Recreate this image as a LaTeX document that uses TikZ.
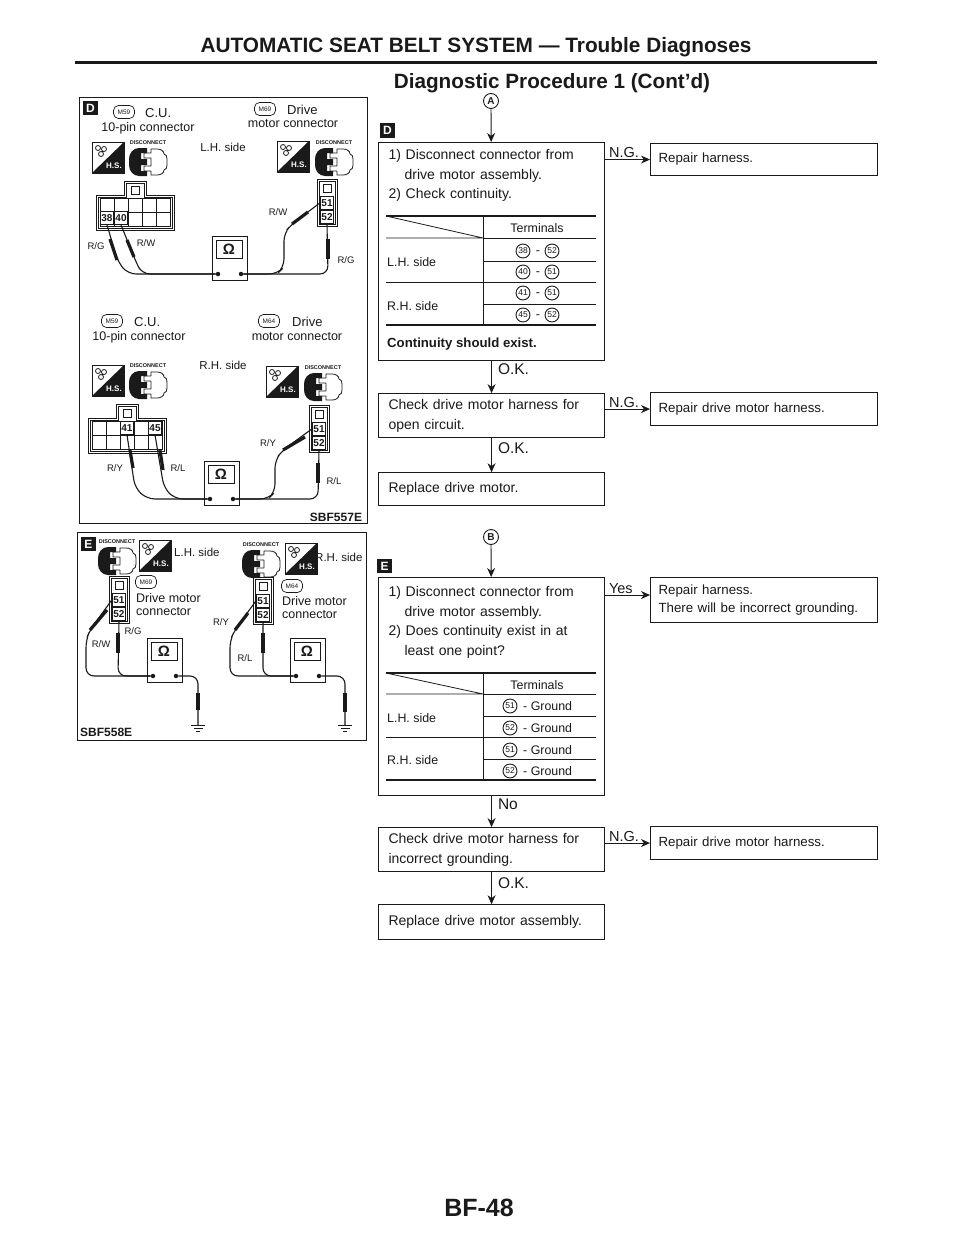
\documentclass[tikz,border=0pt]{standalone}
\usepackage{fontspec}
\setmainfont{Liberation Sans}
\usepackage{xcolor}
\usetikzlibrary{arrows.meta,positioning}
\definecolor{Ink}{HTML}{1A1A1A}
\newcommand{\fsz}[1]{\fontsize{#1}{#1}\selectfont}
\begin{document}
\begin{tikzpicture}[x=1pt,y=-1pt,color=Ink,
    lbl/.style={font=\fsz{12.5},inner sep=0pt},
    sidelbl/.style={font=\fsz{11.5},inner sep=0pt},
    wirelbl/.style={font=\fsz{9.5},inner sep=0pt},
    tbl/.style={font=\fsz{12.4},inner sep=0pt},
    tag/.style={draw,rounded corners=5pt,minimum width=21pt,minimum height=13pt,
                inner sep=0pt,font=\fsz{6.5},line width=.7pt},
    lettertag/.style={fill=Ink,text=white,font=\bfseries\fsz{12},minimum size=14.5pt,inner sep=0pt},
    pinnum/.style={draw,fill=white,line width=.9pt,font=\bfseries\fsz{10},inner sep=0pt,
                   minimum width=13.5pt,minimum height=13pt},
    cnum/.style={circle,draw,line width=.9pt,inner sep=0pt,minimum size=14pt,font=\fsz{8.5}},
    letterring/.style={circle,draw,line width=.9pt,inner sep=0pt,minimum size=15pt,font=\bfseries\fsz{10}},
    procbox/.style={draw,line width=1.1pt,minimum width=226pt,inner xsep=10pt,inner ysep=0pt,
                    text width=206pt,align=left,font=\fontsize{14}{19.5}\selectfont},
    repbox/.style={draw,line width=1.1pt,minimum width=227pt,inner xsep=8pt,inner ysep=0pt,
                   text width=211pt,align=left,anchor=north west,font=\fontsize{13.3}{18}\selectfont},
    panel/.style={draw,line width=1.1pt,inner sep=0pt,anchor=north west},
    arr/.style={-{Stealth[length=9pt,width=8pt]},line width=.9pt},
    flowlbl/.style={inner sep=0pt,font=\fsz{15.5}},
    wire/.style={line width=1.1pt,rounded corners=8pt},
    probe/.style={line width=3.2pt},
    hrule/.style={line width=.8pt},
    hrulebig/.style={line width=2.2pt},
    pics/hsbox/.style={code={
      \draw[line width=.8pt] (0,0) rectangle (32,31);
      \fill (32,0) -- (32,31) -- (0,31) -- cycle;
      \node[text=white,font=\bfseries\fsz{8},inner sep=0pt] (-hs) at (22,24) {H.S.};
      \draw[line width=.8pt] (6,6) circle (2.5) (12,7) circle (2.5) (9,12) circle (2.5);
    }},
    pics/plug/.style={code={
      \node[font=\bfseries\fsz{5.5},inner sep=0pt] (-lbl) at (0,-19) {DISCONNECT};
      \fill (-1,-14) -- (-9,-14) to[out=180,in=90] (-19,-3) -- (-19,3) to[out=-90,in=180] (-9,14)
        -- (-1,14) -- (-1,9) -- (-7,9) -- (-7,3) -- (-1,3) -- (-1,-3) -- (-7,-3) -- (-7,-9) -- (-1,-9) -- cycle;
      \draw[line width=.8pt] (3,-9) -- (-4,-9) -- (-4,-4) -- (3,-4) (3,4) -- (-4,4) -- (-4,9) -- (3,9)
        (3,-9) -- (3,-13) -- (9,-13) to[out=0,in=90] (16,-8) to[out=0,in=90] (19,-3) -- (19,3)
        to[out=-90,in=0] (16,8) to[out=-90,in=0] (9,13) -- (3,13) -- (3,9) (3,-4) -- (3,4);
    }},
    pics/meter/.style={code={
      \draw[line width=.9pt] (0,0) rectangle (35,44);
      \draw[line width=.9pt] (4,4) rectangle (30,22);
      \node[font=\bfseries\fsz{15},inner sep=0pt] (-ohm) at (17,13) {Ω};
      \node[circle,fill,inner sep=0pt,minimum size=4.5pt] (-a) at (6,38) {};
      \node[circle,fill,inner sep=0pt,minimum size=4.5pt] (-b) at (29,38) {};
    }},
    pics/twopin/.style={code={
      \draw[line width=.9pt] (0,0) rectangle (20,47);
      \draw[line width=.9pt] (2,2) rectangle (18,45);
      \draw[line width=.9pt] (6,5) rectangle (14,13);
      \node[pinnum] (-a) at (10,24) {51};
      \node[pinnum] (-b) at (10,38) {52};
    }},
    pics/tenpin/.style={code={
      \draw[line width=.9pt] (0,0) -- (28,0) -- (28,-14) -- (50,-14) -- (50,0) -- (78,0) -- (78,35) -- (0,35) -- cycle;
      \draw[line width=.9pt] (2,2) -- (30,2) -- (30,-12) -- (48,-12) -- (48,2) -- (76,2) -- (76,33) -- (2,33) -- cycle;
      \draw[line width=.9pt] (35,-9) rectangle (43,-1);
      \draw[line width=.9pt] (4,3) rectangle (74,31) (4,17) -- (74,17);
      \foreach \x in {18,32,46,60} \draw[line width=.9pt] (\x,3) -- (\x,31);
    }},
    pics/earth/.style={code={
      \coordinate (-top) at (0,0);
      \draw[line width=.9pt] (-7,0) -- (7,0) (-4.5,3) -- (4.5,3) (-2,6) -- (2,6);
    }}]
  \useasboundingbox (0,0) rectangle (960,1242);
  \fill[white] (0,0) rectangle (960,1242);
  % page head
  \node[font=\bfseries\fsz{20.8},inner sep=0pt] (head) at (476,47) {AUTOMATIC SEAT BELT SYSTEM --- Trouble Diagnoses};
  \draw[line width=3pt] (75,62) -- (877,62);
  \node[font=\bfseries\fsz{20.7},inner sep=0pt] (subhead) at (552,83) {Diagnostic Procedure 1 (Cont'd)};
  % panel D
  \node[panel,minimum width=288pt,minimum height=426pt] (paneld) at (79,97) {};
  \node[lettertag] (tagd) at (90.5,108) {D};
  \node[tag] (m59a) at (124,112) {M59};
  \node[lbl,anchor=west,font=\fsz{13}] (cua) at (145,113) {C.U.};
  \node[lbl] (pina) at (148,128) {10-pin connector};
  \node[tag] (m69a) at (265,109) {M69};
  \node[lbl,anchor=west,font=\fsz{13}] (drva) at (287,110) {Drive};
  \node[lbl] (mota) at (293,124) {motor connector};
  \pic (hsa) at (92,142) {hsbox};
  \pic (pla) at (148,162) {plug};
  \node[sidelbl] (lha) at (223,147) {L.H. side};
  \pic (hsb) at (277,141) {hsbox};
  \pic (plb) at (334,162) {plug};
  \pic (ca) at (96,195) {tenpin};
  \node[pinnum] (p38) at (107,218) {38};
  \node[pinnum] (p40) at (121,218) {40};
  \pic (cb) at (317,179) {twopin};
  \pic (ma) at (212,236) {meter};
  \draw[wire] (p38.south) -- (118,262) -- (128,274) -- (ma-a);
  \draw[probe] (110,239) -- (117,260);
  \draw[wire] (p40.south) -- (136,262) -- (142,274) -- (ma-a);
  \draw[probe] (127,240) -- (134,257);
  \draw[wire] (cb-a.west) -- (292,224) -- (284,233) -- (284,267) -- (277,274) -- (ma-b);
  \draw[probe] (308,212) -- (292,224);
  \draw[wire] (ma-b) -- (328,274) -- (cb-b.south);
  \draw[probe] (328,239) -- (328,259);
  \node[wirelbl] (rga) at (96,246) {R/G};
  \node[wirelbl] (rwa) at (146,243) {R/W};
  \node[wirelbl] (rwb) at (278,212) {R/W};
  \node[wirelbl] (rgb) at (346,260) {R/G};
  % R.H. side of panel D
  \node[tag] (m59b) at (112,321) {M59};
  \node[lbl,anchor=west,font=\fsz{13}] (cub) at (134,322) {C.U.};
  \node[lbl] (pinb) at (139,337) {10-pin connector};
  \node[tag] (m64a) at (269,321) {M64};
  \node[lbl,anchor=west,font=\fsz{13}] (drvb) at (292,322) {Drive};
  \node[lbl] (motb) at (297,337) {motor connector};
  \pic (hsc) at (92,365) {hsbox};
  \pic (plc) at (148,385) {plug};
  \node[sidelbl] (rha) at (223,365) {R.H. side};
  \pic (hsd) at (266,366) {hsbox};
  \pic (pld) at (323,387) {plug};
  \pic (cc) at (88,418) {tenpin};
  \node[pinnum] (p41) at (127,428) {41};
  \node[pinnum] (p45) at (155,428) {45};
  \pic (cd) at (309,405) {twopin};
  \pic (mb) at (204,461) {meter};
  \draw[wire] (p41.south) -- (135,488) -- (147,499) -- (mb-a);
  \draw[probe] (130,450) -- (133,468);
  \draw[wire] (p45.south) -- (164,488) -- (175,499) -- (mb-a);
  \draw[probe] (160,450) -- (163,470);
  \draw[wire] (cd-a.west) -- (283,450) -- (275,460) -- (275,492) -- (268,499) -- (mb-b);
  \draw[probe] (305,437) -- (283,450);
  \draw[wire] (mb-b) -- (318,499) -- (cd-b.south);
  \draw[probe] (318,463) -- (318,483);
  \node[wirelbl] (rya) at (115,468) {R/Y};
  \node[wirelbl] (rla) at (178,468) {R/L};
  \node[wirelbl] (ryb) at (268,443) {R/Y};
  \node[wirelbl] (rlb) at (334,481) {R/L};
  \node[inner sep=0pt,font=\bfseries\fsz{12}] (sbfa) at (336,517) {SBF557E};
  % panel E
  \node[panel,minimum width=289pt,minimum height=208pt] (panele) at (77,532) {};
  \node[lettertag] (tage) at (88.5,544) {E};
  \pic (ple) at (117,561) {plug};
  \pic (hse) at (139,540) {hsbox};
  \node[sidelbl,anchor=west] (lhb) at (174,552) {L.H. side};
  \pic (ce) at (109,576) {twopin};
  \node[tag] (m69b) at (146,582) {M69};
  \node[lbl,anchor=west] (dma) at (136,598) {Drive motor};
  \node[lbl,anchor=west] (cna) at (136,612) {connector};
  \pic (me) at (147,638) {meter};
  \draw[wire] (ce-a.west) -- (90,630) -- (86,640) -- (86,676) -- (me-a);
  \draw[probe] (107,610) -- (90,630);
  \draw[wire] (ce-b.south) -- (118,676) -- (me-a);
  \draw[probe] (118,633) -- (118,653);
  \pic (ga) at (198,725) {earth};
  \draw[wire] (me-b) -- (198,676) -- (ga-top);
  \draw[probe] (198,693) -- (198,710);
  \node[wirelbl] (rwc) at (101,644) {R/W};
  \node[wirelbl] (rgc) at (133,631) {R/G};
  \node[inner sep=0pt,font=\bfseries\fsz{12},anchor=west] (sbfb) at (80,732) {SBF558E};
  \pic (plf) at (261,564) {plug};
  \pic (hsf) at (285,543) {hsbox};
  \node[sidelbl,anchor=west] (rhb) at (315,557) {R.H. side};
  \pic (cf) at (253,577) {twopin};
  \node[tag] (m64b) at (292,586) {M64};
  \node[lbl,anchor=west] (dmb) at (282,601) {Drive motor};
  \node[lbl,anchor=west] (cnb) at (282,615) {connector};
  \pic (mf) at (290,638) {meter};
  \draw[wire] (cf-a.west) -- (235,630) -- (230,640) -- (230,676) -- (mf-a);
  \draw[probe] (248,613) -- (235,630);
  \draw[wire] (cf-b.south) -- (263,676) -- (mf-a);
  \draw[probe] (263,633) -- (263,653);
  \pic (gb) at (345,725) {earth};
  \draw[wire] (mf-b) -- (345,676) -- (gb-top);
  \draw[probe] (345,693) -- (345,712);
  \node[wirelbl] (ryc) at (221,622) {R/Y};
  \node[wirelbl] (rlc) at (245,658) {R/L};
  % flow D
  \node[letterring] (cona) at (491,101) {A};
  \node[lettertag] (tagdb) at (387.5,130.5) {D};
  \node[procbox,minimum height=218pt,anchor=north west] (d1) at (378,142) {};
  \node[procbox,draw=none,anchor=north west,minimum height=0pt] (d1t) at (378,149)
    {1) Disconnect connector from\\\hspace*{16pt}drive motor assembly.\\2) Check continuity.};
  \draw[hrulebig] (386,216) -- (596,216);
  \draw[hrule] (386,216) -- (483,238) -- (386,238);
  \draw[hrule] (483,216) -- (483,325);
  \foreach \y in {238,261,304} \draw[hrule] (483,\y) -- (596,\y);
  \draw[hrule] (386,282) -- (596,282);
  \draw[hrulebig] (386,325) -- (596,325);
  \node[tbl] (termd) at (537,228) {Terminals};
  \foreach \y/\a/\b in {251/38/52,272/40/51,293/41/51,315/45/52} {
    \node[cnum] (c\a) at (523,\y) {\a};
    \node[tbl,yshift=-2pt] (dash\a) at (538,\y) {-};
    \node[cnum] (e\a) at (552,\y) {\b};
  }
  \node[tbl,anchor=west] (lhd) at (387,262) {L.H. side};
  \node[tbl,anchor=west] (rhd) at (387,306) {R.H. side};
  \node[inner sep=0pt,anchor=west,font=\bfseries\fsz{13.2}] (cont) at (387,344) {Continuity should exist.};
  \node[procbox,minimum height=44pt,below=32pt of d1] (d2) {Check drive motor harness for\\open circuit.};
  \node[procbox,minimum height=33pt,below=34pt of d2] (d3) {Replace drive motor.};
  \node[repbox,minimum height=32pt] (r1) at (650,143) {Repair harness.};
  \node[repbox,minimum height=33pt] (r2) at (650,392) {Repair drive motor harness.};
  \draw[arr] (cona) -- (d1);
  \draw[arr] (d1) -- node[pos=.25,right=6pt,flowlbl] (okd) {O.K.} (d2);
  \draw[arr] (d2) -- node[pos=.3,right=6pt,flowlbl] (oke) {O.K.} (d3);
  \draw[arr] (d1.east |- r1.west) -- node[pos=.1,above right=1pt and -1pt,flowlbl,font=\fsz{14.5}] (nga) {N.G.} (r1.west);
  \draw[arr] (d2.east |- r2.west) -- node[pos=.1,above right=1pt and -1pt,flowlbl,font=\fsz{14.5}] (ngb) {N.G.} (r2.west);
  % flow E
  \node[letterring] (conb) at (491,537) {B};
  \node[lettertag] (tagev) at (384.5,566) {E};
  \node[procbox,minimum height=218pt,anchor=north west] (e1) at (378,577) {};
  \node[procbox,draw=none,anchor=north west,minimum height=0pt] (e1t) at (378,586)
    {1) Disconnect connector from\\\hspace*{16pt}drive motor assembly.\\2) Does continuity exist in at\\\hspace*{16pt}least one point?};
  \draw[hrulebig] (386,673) -- (596,673);
  \draw[hrule] (386,673) -- (483,694) -- (386,694);
  \draw[hrule] (483,673) -- (483,780);
  \foreach \y in {694,716,759} \draw[hrule] (483,\y) -- (596,\y);
  \draw[hrule] (386,737) -- (596,737);
  \draw[hrulebig] (386,780) -- (596,780);
  \node[tbl] (terme) at (537,685) {Terminals};
  \foreach \y/\a in {706/51,728/52,750/51,771/52} {
    \node[cnum] (g\y) at (510,\y) {\a};
    \node[tbl,anchor=west] (gnd\y) at (523,\y) {- Ground};
  }
  \node[tbl,anchor=west] (lhe) at (387,718) {L.H. side};
  \node[tbl,anchor=west] (rhe) at (387,760) {R.H. side};
  \node[procbox,minimum height=44pt,below=31pt of e1] (e2) {Check drive motor harness for\\incorrect grounding.};
  \node[procbox,minimum height=35pt,below=32pt of e2] (e3) {Replace drive motor assembly.};
  \node[repbox,minimum height=45pt] (r3) at (650,577) {Repair harness.\\There will be incorrect grounding.};
  \node[repbox,minimum height=33pt] (r4) at (650,826) {Repair drive motor harness.};
  \draw[arr] (conb) -- (e1);
  \draw[arr] (e1) -- node[pos=.25,right=6pt,flowlbl] (noe) {No} (e2);
  \draw[arr] (e2) -- node[pos=.35,right=6pt,flowlbl] (okf) {O.K.} (e3);
  \draw[arr] ([yshift=5pt]e1.east |- r3.west) -- node[pos=.1,above right=1pt and -1pt,flowlbl,font=\fsz{14.5}] (yese) {Yes} ([yshift=5pt]r3.west);
  \draw[arr] (e2.east |- r4.west) -- node[pos=.1,above right=1pt and -1pt,flowlbl,font=\fsz{14.5}] (ngc) {N.G.} (r4.west);
  % page number
  \node[font=\bfseries\fsz{25},inner sep=0pt] (pageno) at (479,1208) {BF-48};
\end{tikzpicture}
\end{document}
